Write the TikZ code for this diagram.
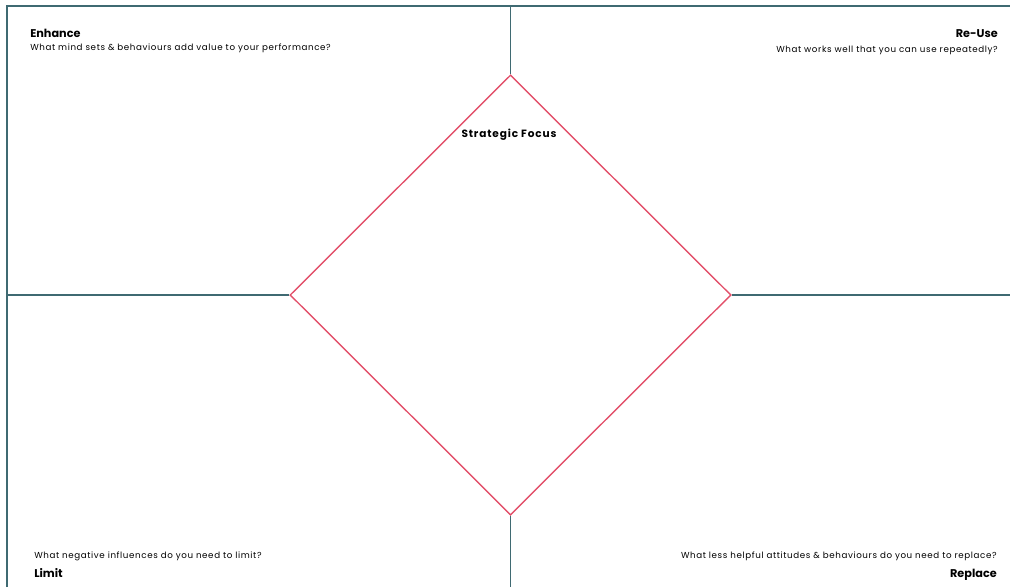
\documentclass[tikz,border=0pt]{standalone}
\usepackage{fontspec}
\setmainfont{Poppins}
\usepackage{tikz}
\usetikzlibrary{shapes.geometric, positioning, backgrounds}
\definecolor{focusframe}{HTML}{3F6A72}
\definecolor{focusred}{HTML}{E2506A}

\begin{document}
\begin{tikzpicture}[
    x=0.025cm, y=-0.025cm,
    frame/.style={draw=focusframe, line width=1pt},
    focus/.style={draw=focusred, line width=1pt, diamond, minimum width=11.025cm, minimum height=11cm, inner sep=0pt},
    ttl/.style={font=\fontsize{8}{9}\selectfont\bfseries, inner sep=0pt},
    qst/.style={font=\fontsize{6.2}{7}\selectfont\addfontfeatures{LetterSpace=7}, inner sep=0pt}
  ]
    \useasboundingbox (0,0) rectangle (1010,587);
    % frame corners
    \coordinate (tl) at (7,6);
    \coordinate (tr) at (1010,6);
    \coordinate (bl) at (7,587);
    \coordinate (tm) at (510.5,6);
    \coordinate (bm) at (510.5,587);
    \node[focus] (d) at (510.5,295) {};
    \begin{scope}[on background layer]
      \draw[frame] (bl) -- (tl) -- (tr);
      \draw[frame] (d.west -| tl) -- (d.west);
      \draw[frame] (d.east) -- (d.east -| tr);
      \draw[frame] (tm) -- (d.north);
      \draw[frame] (d.south) -- (bm);
    \end{scope}
    % quadrant texts
    \node[ttl, anchor=base west] (enh) at (30,37) {Enhance};
    \node[qst, anchor=base west] (enhq) at (30,50) {What mind sets \& behaviours add value to your performance?};
    \node[ttl, anchor=base east] (reu) at (998,37) {Re-Use};
    \node[qst, anchor=base east] (reuq) at (998,52) {What works well that you can use repeatedly?};
    \node[qst, anchor=base west] (limq) at (34,558) {What negative influences do you need to limit?};
    \node[ttl, anchor=base west] (lim) at (34,577) {Limit};
    \node[qst, anchor=base east] (repq) at (997,558) {What less helpful attitudes \& behaviours do you need to replace?};
    \node[ttl, anchor=base east] (rep) at (997,577) {Replace};
    \node[inner sep=0pt, font=\fontsize{7.5}{8}\selectfont\bfseries\addfontfeatures{LetterSpace=8}, anchor=base] (sf) at (509,137) {Strategic Focus};
  \end{tikzpicture}
\end{document}
